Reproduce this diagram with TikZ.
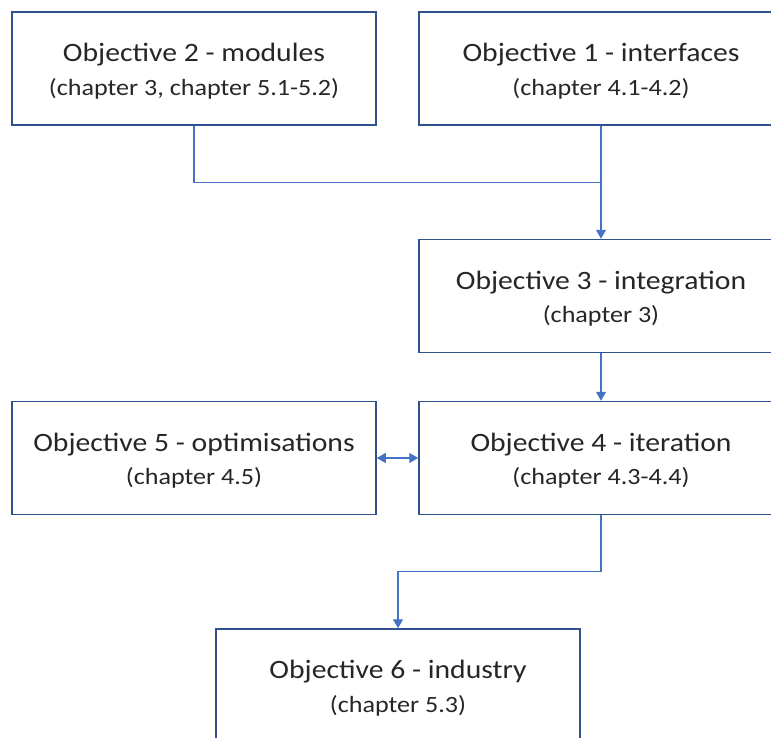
\documentclass[tikz,border=0pt]{standalone}
\usepackage{fontspec}
\setmainfont{Carlito}
\newfontfamily\objfont[FakeStretch=1.12]{Carlito}
\usetikzlibrary{calc}
\usetikzlibrary{arrows.meta}
\definecolor{boxblue}{HTML}{2F528F}
\definecolor{linkblue}{HTML}{4472C4}
\definecolor{textgrey}{HTML}{262626}
\tikzset{
  objbox/.style={draw=boxblue,line width=1.5pt,minimum width=364pt,minimum height=113pt,
    align=center,text=textgrey,inner sep=0pt},
  link/.style={draw=linkblue,line width=1.3pt},
  tip/.style={-{Triangle[length=9pt,width=10pt]}}
}
\newcommand{\objtext}[2]{{\objfont\fontsize{26.5}{22}\selectfont\rule{0pt}{31pt}#1}\\[11pt]{\objfont\fontsize{23.3}{22}\selectfont #2\rule[-11pt]{0pt}{0pt}}}

\begin{document}
\begin{tikzpicture}[x=1pt,y=-1pt]
  \useasboundingbox (0,0) rectangle (771,737);
  \node[objbox] (obj2) at (194,68.5) {\objtext{Objective 2 - modules}{(chapter 3, chapter 5.1-5.2)}};
  \node[objbox] (obj1) at (601,68.5) {\objtext{Objective 1 - interfaces}{(chapter 4.1-4.2)}};
  \node[objbox] (obj3) at (601,296) {\objtext{Objective 3 - integration}{(chapter 3)}};
  \node[objbox] (obj5) at (194,458) {\objtext{Objective 5 - optimisations}{(chapter 4.5)}};
  \node[objbox] (obj4) at (601,458) {\objtext{Objective 4 - iteration}{(chapter 4.3-4.4)}};
  \node[objbox] (obj6) at (398,685.5) {\objtext{Objective 6 - industry}{(chapter 5.3)}};

  \draw[link] (obj2.south) |- ($(obj1.south)!0.5!(obj3.north)$);
  \draw[link,tip] (obj1.south) -- (obj3.north);
  \draw[link,tip] (obj3.south) -- (obj4.north);
  \draw[link,{Triangle[length=9pt,width=10pt]}-{Triangle[length=9pt,width=10pt]}] (obj5.east) -- (obj4.west);
  \draw[link,tip] (obj4.south) -- ($(obj4.south)!0.5!(obj4.south |- obj6.north)$) -| (obj6.north);
\end{tikzpicture}
\end{document}
